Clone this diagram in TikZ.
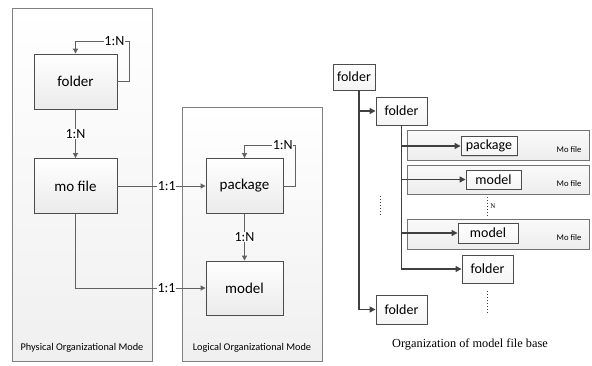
\documentclass[tikz,border=0pt]{standalone}
\usepackage{fontspec}
\setmainfont{Carlito}
\newfontfamily\capfont{Liberation Serif}
\usetikzlibrary{arrows.meta,shadows}

\begin{document}
\begin{tikzpicture}[x=1pt,y=-1pt,
  panel/.style={draw=black!50, line width=0.8pt, top color=white, bottom color=gray!12, inner sep=0pt},
  ebox/.style={draw=black!70, line width=0.9pt, top color=white, bottom color=gray!16, inner sep=0pt,
    minimum width=83pt, minimum height=55pt, font=\fontsize{15}{15}\selectfont},
  link/.style={draw=black!62, line width=1pt},
  arr/.style={link, -{Triangle[length=5pt,width=5pt]}},
  card/.style={fill=white, inner sep=0.6pt, font=\fontsize{14}{14}\selectfont, text=black},
  modetext/.style={font=\fontsize{10.3}{10.3}\selectfont, inner sep=0pt},
  tbox/.style={draw=black!70, line width=0.9pt, top color=white, bottom color=gray!8, inner sep=0pt,
    font=\fontsize{14}{14}\selectfont, drop shadow={shadow xshift=1pt, shadow yshift=-1pt, fill=black!28}},
  band/.style={draw=black!55, line width=0.8pt, top color=gray!4, bottom color=gray!14, inner sep=0pt,
    minimum width=182pt, minimum height=30pt, drop shadow={shadow xshift=1pt, shadow yshift=-1pt, fill=black!25}},
  tline/.style={draw=black!75, line width=1.3pt},
  tarr/.style={tline, -{Triangle[length=6pt,width=6pt]}},
  dots/.style={draw=black!75, line width=1pt, dotted},
  mofile/.style={font=\fontsize{8.6}{8.6}\selectfont, inner sep=0pt}
]
\useasboundingbox (0,0) rectangle (592,365);

% ---- physical organizational mode ----
\node[panel, minimum width=140pt, minimum height=353pt] (phys) at (82,184.5) {};
\node[modetext] (physlbl) at (82,348) {Physical Organizational Mode};
\node[ebox] (fA) at (75.5,81.5) {folder};
\node[ebox] (mf) at (75.5,186) {mo file};

% ---- logical organizational mode ----
\node[panel, minimum width=140pt, minimum height=254pt] (logic) at (252,234) {};
\node[modetext] (logiclbl) at (252,348) {Logical Organizational Mode};
\node[ebox, minimum width=77pt] (pkg) at (244.5,186) {package};
\node[ebox, minimum width=77pt, minimum height=54pt] (mdl) at (244.5,288) {model};

% relations
\draw[arr] (fA.east) -- ++(12,0) |- node[card, pos=0.64] {1:N} ([yshift=12.5pt]fA.north) -- (fA.north);
\draw[arr] (fA) -- node[card] {1:N} (mf);
\draw[arr] (mf) -- node[card, pos=0.56] {1:1} (pkg);
\draw[arr] (mf.south) |- node[card, pos=0.85] {1:1} (mdl.west);
\draw[arr] (pkg.east) -- ++(12,0) |- node[card, pos=0.625] {1:N} ([yshift=13pt]pkg.north) -- (pkg.north);
\draw[arr] (pkg) -- node[card] {1:N} (mdl);

% ---- organization of model file base ----
\coordinate (trunk) at (359,0);
\node[band] (b1) at (498,145) {};
\node[band, minimum height=29pt] (b2) at (498,179.5) {};
\node[band] (b3) at (498,234) {};
\node[mofile] (mo1) at (569,149.5) {Mo file};
\node[mofile] (mo2) at (569,183.5) {Mo file};
\node[mofile] (mo3) at (569,237.5) {Mo file};

\node[tbox, minimum width=42pt, minimum height=26pt] (t0) at (354,77) {folder};
\node[tbox, minimum width=51pt, minimum height=28pt] (t1) at (401.5,111) {folder};
\node[tbox, minimum width=56pt, minimum height=19pt] (pk) at (489,146) {package};
\node[tbox, minimum width=55pt, minimum height=19pt] (md1) at (493.5,179.5) {model};
\node[tbox, minimum width=60pt, minimum height=20pt] (md2) at (488,233) {model};
\node[tbox, minimum width=51pt, minimum height=28pt] (t2) at (487.5,269) {folder};
\node[tbox, minimum width=51pt, minimum height=29pt] (t3) at (401.5,309.5) {folder};

\draw[tarr] (t0.south -| trunk) |- (t3.west);
\draw[tarr] (t1.west -| trunk) -- (t1.west);
\draw[tarr] (t1.south) |- (t2.west);
\draw[tarr] (pk.west -| t1.south) -- (pk.west);
\draw[tarr] (md1.west -| t1.south) -- (md1.west);
\draw[tarr] (md2.west -| t1.south) -- (md2.west);

\draw[dots] (487,197) -- (487,216);
\node[font=\capfont\fontsize{7}{7}\selectfont, inner sep=0pt] (nlbl) at (493,206) {N};
\draw[dots] (380,196) -- (380,216);
\draw[dots] (487,291) -- (487,313);

\node[font=\capfont\fontsize{12.3}{12.3}\selectfont, inner sep=0pt] (cap) at (470,344) {Organization of model file base};
\end{tikzpicture}
\end{document}
